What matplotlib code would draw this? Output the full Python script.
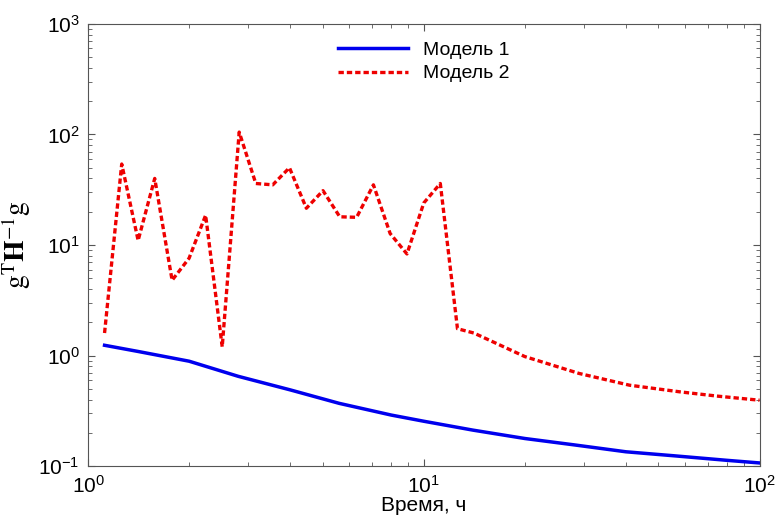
import matplotlib.pyplot as plt

plt.rcParams['font.family'] = ['Liberation Sans', 'DejaVu Sans']
plt.rcParams['mathtext.fontset'] = 'stix'

# Модель 1
x1 = [1.12, 1.41, 2.0, 2.8, 4.0, 5.6, 8.0, 10, 14, 20, 28, 40, 56, 80, 100]
y1 = [1.24, 1.09, 0.89, 0.65, 0.49, 0.37, 0.29, 0.255, 0.212, 0.178, 0.156,
      0.135, 0.124, 0.113, 0.107]

# Модель 2
x2 = [1.12, 1.26, 1.41, 1.58, 1.78, 2.0, 2.24, 2.51, 2.82, 3.16, 3.55, 3.98,
      4.47, 5.01, 5.62, 6.31, 7.08, 7.94, 8.91, 10, 11.2, 12.6,
      14.1, 20, 29, 41, 58, 75, 100]
y2 = [1.6, 54, 11, 40, 4.8, 7.6, 18.6, 1.2, 105, 36, 35, 50,
      21.5, 31, 18, 17.8, 35, 12.7, 8.3, 24, 36, 1.75,
      1.6, 0.98, 0.69, 0.54, 0.47, 0.43, 0.395]

fig = plt.figure(figsize=(7.79, 5.18), dpi=100)
ax = fig.add_axes([0.113, 0.100, 0.862, 0.854])

ax.plot(x1, y1, color='#0000ee', lw=2.5, label='Модель 1')
ax.plot(x2, y2, color='#ee0000', lw=2.4, ls=(0, (1.6, 0.9)), label='Модель 2')

ax.set_xscale('log')
ax.set_yscale('log')
ax.set_xlim(1, 100)
ax.set_ylim(0.1, 1000)

for s in ax.spines.values():
    s.set_color('#555555')
ax.tick_params(which='both', direction='in', top=True, right=True,
               colors='#555555', labelcolor='black', labelsize=15)
ax.tick_params(which='major', length=5)
ax.tick_params(which='minor', length=3)
ax.tick_params(axis='x', pad=6)
ax.tick_params(axis='y', pad=6)

ax.set_xlabel('Время, ч', fontsize=15, labelpad=0)
ax.set_ylabel(r'$\mathrm{g}^{\mathrm{T}}\mathbf{H}^{-1}\mathrm{g}$', fontsize=20,
              labelpad=4)

ax.legend(loc='upper center', bbox_to_anchor=(0.5, 1.0), frameon=False,
          fontsize=14, handlelength=3.6, borderaxespad=0.5, labelspacing=0.3)

fig.savefig('out.png')
